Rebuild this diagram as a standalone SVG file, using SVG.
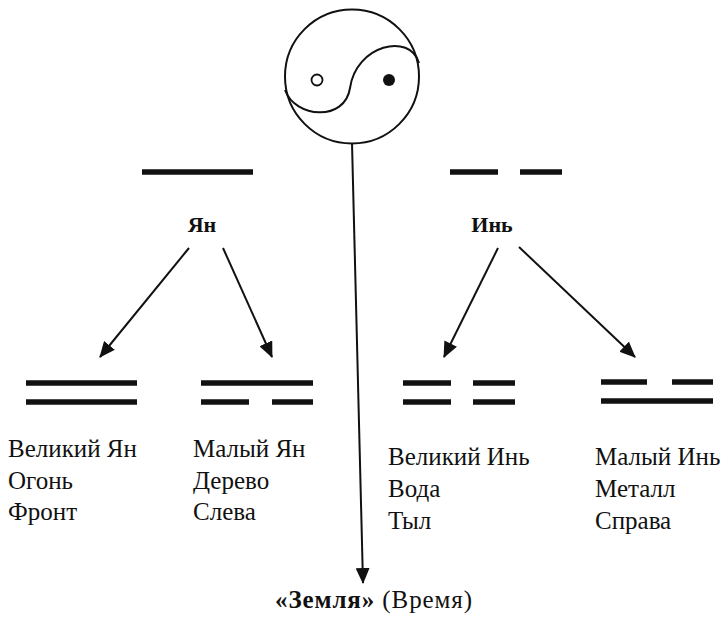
<svg xmlns="http://www.w3.org/2000/svg" width="721" height="622" viewBox="0 0 721 622">
<style>
.bar{stroke:#111;stroke-width:5.5;fill:none}
.ln{stroke:#111;stroke-width:2;fill:none}
.lbl{font-family:"Liberation Serif","Times New Roman",serif;font-size:25px;fill:#111}
.bold{font-family:"Liberation Serif","Times New Roman",serif;font-size:22px;font-weight:bold;fill:#111}
</style>
<defs>
<marker id="ah" markerUnits="userSpaceOnUse" markerWidth="16" markerHeight="14" refX="15" refY="7" orient="auto">
<path d="M0,0 L16,7 L0,14 Z" fill="#111"/>
</marker>
</defs>
<rect width="721" height="622" fill="#fff"/>
<g id="taiji">
<circle cx="352" cy="76.5" r="67" class="ln"/>
<path d="M285,90 C295,118 345,122 350,88 C356,45 410,32 419,63" class="ln"/>
<circle cx="317" cy="80" r="5.5" fill="#fff" stroke="#111" stroke-width="1.8"/>
<circle cx="389" cy="80" r="6" fill="#111"/>
</g>
<g id="yang">
<line x1="142" y1="172" x2="253" y2="172" class="bar"/>
<text x="202" y="232" class="bold" text-anchor="middle">Ян</text>
</g>
<g id="yin">
<line x1="450" y1="172" x2="498" y2="172" class="bar"/>
<line x1="520" y1="172" x2="562" y2="172" class="bar"/>
<text x="492" y="232" class="bold" text-anchor="middle">Инь</text>
</g>
<g id="great-yang">
<line x1="26" y1="383" x2="137" y2="383" class="bar"/>
<line x1="26" y1="402" x2="137" y2="402" class="bar"/>
<text x="8" y="457" class="lbl">Великий Ян</text>
<text x="8" y="489" class="lbl">Огонь</text>
<text x="8" y="520" class="lbl">Фронт</text>
</g>
<g id="lesser-yang">
<line x1="201" y1="383" x2="313" y2="383" class="bar"/>
<line x1="201" y1="402" x2="249" y2="402" class="bar"/>
<line x1="272" y1="402" x2="313" y2="402" class="bar"/>
<text x="193" y="457" class="lbl">Малый Ян</text>
<text x="193" y="489" class="lbl">Дерево</text>
<text x="193" y="520" class="lbl">Слева</text>
</g>
<g id="great-yin">
<line x1="403" y1="383" x2="451" y2="383" class="bar"/>
<line x1="473" y1="383" x2="515" y2="383" class="bar"/>
<line x1="403" y1="402" x2="451" y2="402" class="bar"/>
<line x1="473" y1="402" x2="515" y2="402" class="bar"/>
<text x="388" y="465" class="lbl">Великий Инь</text>
<text x="388" y="497" class="lbl">Вода</text>
<text x="388" y="529" class="lbl">Тыл</text>
</g>
<g id="lesser-yin">
<line x1="601" y1="382" x2="647" y2="382" class="bar"/>
<line x1="672" y1="382" x2="713" y2="382" class="bar"/>
<line x1="601" y1="401" x2="713" y2="401" class="bar"/>
<text x="595" y="465" class="lbl">Малый Инь</text>
<text x="595" y="497" class="lbl">Металл</text>
<text x="595" y="529" class="lbl">Справа</text>
</g>
<g id="earth">
<text x="275" y="608" class="lbl" textLength="197" lengthAdjust="spacing"><tspan font-weight="bold">«Земля»</tspan> (Время)</text>
</g>
<g id="connectors">
<line x1="189" y1="248" x2="100" y2="357" class="ln" marker-end="url(#ah)"/>
<line x1="223" y1="248" x2="272" y2="357" class="ln" marker-end="url(#ah)"/>
<line x1="498" y1="248" x2="444" y2="357" class="ln" marker-end="url(#ah)"/>
<line x1="519" y1="247" x2="635" y2="357" class="ln" marker-end="url(#ah)"/>
<line x1="352" y1="143" x2="363" y2="583" class="ln" marker-end="url(#ah)"/>
</g>
</svg>
